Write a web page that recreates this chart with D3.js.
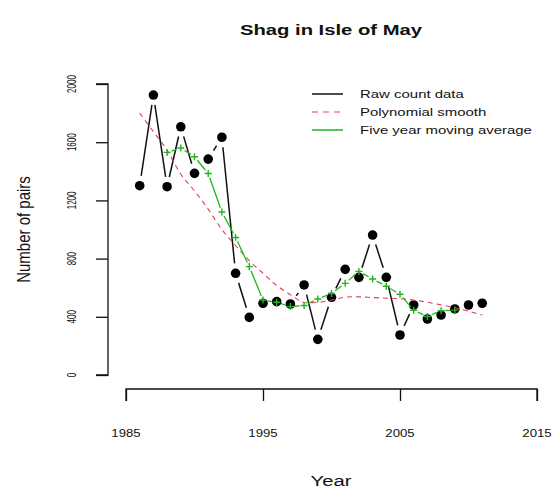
<!DOCTYPE html>
<html><head><meta charset="utf-8">
<script src="https://cdn.jsdelivr.net/npm/d3@7"></script>
<style>body{margin:0;background:#fff}svg{display:block}text{font-family:"Liberation Sans",Arial,sans-serif;fill:#111}</style>
</head><body><div id="chart"></div>
<script>
const years = [1986,1987,1988,1989,1990,1991,1992,1993,1994,1995,1996,1997,1998,1999,2000,2001,2002,2003,2004,2005,2006,2007,2008,2009,2010,2011];
const rawCounts = [1301,1924,1294,1706,1386,1484,1634,699,396,493,504,488,619,245,534,726,671,962,671,275,481,385,412,454,481,493];
const smoothValues = [1800,1672,1545,1380,1265,1140,1000,890,785,700,615,552,498,500,515,535,537,532,528,525,515,500,482,462,438,412];
const maYears = [1988,1989,1990,1991,1992,1993,1994,1995,1996,1997,1998,1999,2000,2001,2002,2003,2004,2005,2006,2007,2008,2009];
const maValues = [1530,1560,1500,1385,1120,945,745,515,500,470,478,522,560,630,712,660,610,555,445,402,442,446];
const xTicks = [1985,1995,2005,2015];
const yTicks = [0,400,800,1200,1600,2000];
const legendLabels = ["Raw count data","Polynomial smooth","Five year moving average"];
const titleText = "Shag in Isle of May";
const xTitle = "Year", yTitle = "Number of pairs";

const W = 553, H = 491, SX = 1.35;
const svg = d3.select("#chart").append("svg").attr("width", W).attr("height", H);
const x = d3.scaleLinear().domain([1985, 2015]).range([126, 537]);
const y = d3.scaleLinear().domain([0, 2000]).range([375, 84]);
const RED = "#e0405a", GREEN = "#1fb51f";

function stext(g, tx, ty, str, size, anchor, weight, sx) {
  return g.append("text").attr("transform", `translate(${tx},${ty}) scale(${sx||SX},1)`)
    .attr("text-anchor", anchor || "middle").attr("font-size", size).attr("font-weight", weight || "normal").text(str);
}

// title
stext(svg, 331, 35, titleText, 15, "middle", "bold");

// x axis
const xAxis = d3.axisBottom(x).tickValues(xTicks).tickSize(12).tickFormat("");
const gx = svg.append("g").attr("transform", "translate(0,389)").call(xAxis);
gx.select(".domain").attr("d", `M${x(1985)},12V0H${x(2015)}V12`).attr("stroke", "#111").attr("stroke-width", 1.3);
gx.selectAll(".tick line").attr("stroke", "#111").attr("stroke-width", 1.3);
xTicks.forEach(t => stext(svg, x(t), 437, String(t), 11, "middle", "normal", 1.2));
stext(svg, 331, 486, xTitle, 15, "middle");

// y axis
const yAxis = d3.axisLeft(y).tickValues(yTicks).tickSize(12).tickFormat("");
const gy = svg.append("g").attr("transform", "translate(108,0)").call(yAxis);
gy.select(".domain").attr("d", `M-12,${y(2000)}H0V${y(0)}H-12`).attr("stroke", "#111").attr("stroke-width", 1.3);
gy.selectAll(".tick line").attr("stroke", "#111").attr("stroke-width", 1.3);
yTicks.forEach(t => svg.append("text").attr("transform", `translate(76,${y(t)}) scale(1.5,1) rotate(-90)`)
  .attr("text-anchor", "middle").attr("font-size", 8).text(String(t)));
svg.append("text").attr("transform", `translate(30,${(y(0)+y(2000))/2}) scale(1.25,1) rotate(-90)`)
  .attr("text-anchor", "middle").attr("font-size", 15).text(yTitle);

// type="b" style segments with gaps
function gappedSegments(g, xs, ys, gap, color, width, dash) {
  for (let i = 0; i < xs.length - 1; i++) {
    const x0 = x(xs[i]), y0 = y(ys[i]), x1 = x(xs[i+1]), y1 = y(ys[i+1]);
    const dx = x1 - x0, dy = y1 - y0, L = Math.hypot(dx, dy);
    if (L <= 2 * gap) continue;
    const ux = dx / L, uy = dy / L;
    g.append("line").attr("x1", x0 + ux*gap).attr("y1", y0 + uy*gap)
      .attr("x2", x1 - ux*gap).attr("y2", y1 - uy*gap)
      .attr("stroke", color).attr("stroke-width", width).attr("stroke-dasharray", dash || null);
  }
}

const plot = svg.append("g");
// raw
gappedSegments(plot, years, rawCounts, 10, "#111", 1.5);
plot.selectAll("circle.raw").data(years).join("circle").attr("class", "raw")
  .attr("cx", (d) => x(d)).attr("cy", (d, i) => y(rawCounts[i])).attr("r", 4.8).attr("fill", "#000");

// polynomial smooth
const sline = d3.line().x((d, i) => x(years[i])).y(d => y(d)).curve(d3.curveCatmullRom);
plot.append("path").attr("d", sline(smoothValues)).attr("fill", "none")
  .attr("stroke", RED).attr("stroke-width", 1.1).attr("stroke-dasharray", "5,4");

// moving average
gappedSegments(plot, maYears, maValues, 4.5, GREEN, 1.3);
plot.selectAll("path.plus").data(maYears).join("path").attr("class", "plus")
  .attr("d", (d, i) => { const cx = x(d), cy = y(maValues[i]); return `M${cx-3.5},${cy}H${cx+3.5}M${cx},${cy-3.5}V${cy+3.5}`; })
  .attr("stroke", GREEN).attr("stroke-width", 1.4);

// legend
const legY = [94, 112, 130];
const lg = svg.append("g");
lg.append("line").attr("x1", 312).attr("x2", 343).attr("y1", legY[0]).attr("y2", legY[0]).attr("stroke", "#111").attr("stroke-width", 1.5);
lg.append("line").attr("x1", 312).attr("x2", 343).attr("y1", legY[1]).attr("y2", legY[1]).attr("stroke", RED).attr("stroke-width", 1.2).attr("stroke-dasharray", "6,5");
lg.append("line").attr("x1", 312).attr("x2", 343).attr("y1", legY[2]).attr("y2", legY[2]).attr("stroke", GREEN).attr("stroke-width", 1.5);
legendLabels.forEach((t, i) => stext(lg, 360, legY[i] + 4, t, 11.5, "start", "normal", 1.3));
</script></body></html>
